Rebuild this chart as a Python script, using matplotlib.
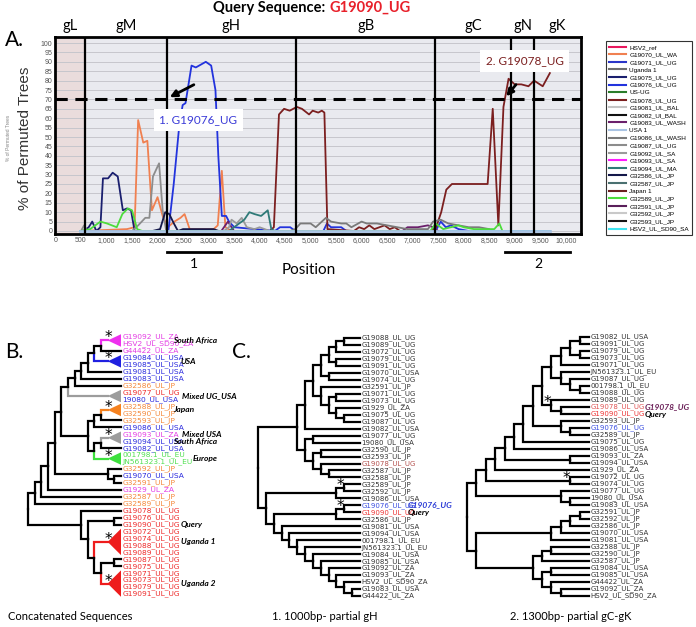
import matplotlib
matplotlib.use('Agg')
import matplotlib.pyplot as plt
import matplotlib.transforms as mtransforms
from matplotlib.lines import Line2D
from matplotlib.patches import Polygon

W, H = 696, 627
NARROW = ['Liberation Sans Narrow', 'DejaVu Sans']
SANS = ['Liberation Sans', 'DejaVu Sans']
CAL = ['Lato', 'DejaVu Sans']

# ---------------- panel A: bootscan data ----------------
GENE_BOUNDS = [585, 2177, 4717, 7440, 8930, 9380]
GENE_NAMES = ['gL', 'gM', 'gH', 'gB', 'gC', 'gN', 'gK']
X_END = 10300

BASE_POS = [480, 9700]
BASE_VAL = [0, 0]

G19076_POS = [500, 2100, 2212, 2317, 2422, 2492, 2548, 2666, 2750, 2946, 3051, 3135, 3191, 3260,
              3344, 3400, 3505, 4300, 4400, 4600, 4700, 5250, 5320, 5400, 5600, 5700, 7450, 7550,
              7650, 7750, 7900, 8100]
G19076_VAL = [0, 0, 0, 25, 55, 67, 68, 88, 87, 90, 88, 75, 40, 8,
              8, 5, 2, 0, 2, 2, 0, 0, 4, 2, 2, 0, 0, 5,
              2, 3, 1, 0]

G19078_POS = [500, 4200, 4280, 4380, 4480, 4590, 4730, 4830, 4970, 5040, 5150, 5220, 5270, 5330,
              5850, 5950, 6050, 6150, 6250, 6350, 6450, 6550, 6650, 6750, 7350, 7460, 7560, 7660,
              7770, 8470, 8570, 8680, 8780, 8880, 9000, 9130, 9270, 9380, 9550, 9690]
G19078_VAL = [0, 0, 2, 62, 65, 64, 66, 65, 62, 64, 63, 64, 63, 1,
              0, 2, 1, 3, 1, 2, 3, 1, 2, 0, 0, 2, 10, 22,
              25, 25, 65, 3, 66, 81, 78, 78, 77, 80, 77, 84]

G19070_POS = [500, 1400, 1550, 1620, 1720, 1800, 1890, 2000, 2100, 2200, 2330, 2450, 2530, 2630,
              3100, 3180, 3260, 3330, 3450]
G19070_VAL = [0, 1, 2, 59, 47, 48, 11, 18, 8, 2, 5, 7, 9, 1,
              1, 3, 32, 2, 0]

G19075_POS = [550, 650, 720, 800, 880, 930, 1030, 1120, 1220, 1320, 1400, 1480, 1550, 2000]
G19075_VAL = [0, 2, 5, 0, 2, 28, 28, 31, 29, 11, 12, 11, 0, 0]

G32586_POS = [1900, 2050, 2150, 2230, 2320, 2400, 2500, 3100, 3200]
G32586_VAL = [0, 1, 10, 9, 4, 0, 1, 1, 0]

G19087_POS = [500, 560, 620, 1500, 1620, 1760, 1840, 1910, 2030, 2100, 2170, 2400]
G19087_VAL = [0, 3, 0, 0, 3, 7, 7, 29, 36, 11, 0, 0]

G32589_POS = [500, 680, 880, 1010, 1200, 1310, 1420, 1500, 1600, 1700, 7350, 7450, 7600, 7900,
              8000, 8200, 8600, 8700, 8760]
G32589_VAL = [0, 1, 5, 4, 2, 9, 12, 11, 1, 0, 0, 4, 1, 3,
              2, 1, 1, 4, 0]

G19094_POS = [3400, 3550, 3700, 3800, 3900, 4030, 4160, 4230, 4300]
G19094_VAL = [0, 3, 6, 10, 9, 8, 11, 1, 0]

G19086_POS = [4600, 4700, 4800, 5000, 5100, 5300, 5400, 5600, 5700, 5800, 6000, 6100, 6300, 6500,
              6700, 6900, 7300, 7400, 7550, 7700, 7900, 8100, 8300, 8500]
G19086_VAL = [0, 1, 4, 4, 2, 7, 5, 4, 4, 2, 5, 4, 4, 3,
              2, 1, 1, 5, 6, 4, 3, 2, 2, 1]

G19092_POS = [3300, 3400, 3450, 3550, 3650, 3750, 3900, 4000, 4100, 4200]
G19092_VAL = [0, 2, 6, 4, 7, 2, 1, 2, 1, 0]

G19083_POS = [3250, 3380, 3450, 3500, 6800, 6900, 7100, 7300, 7400, 7500]
G19083_VAL = [0, 5, 2, 0, 0, 2, 2, 3, 2, 0]

LEGEND_LABELS = ['HSV2_ref', 'G19070_UL_WA', 'G19071_UL_UG', 'Uganda 1', 'G19075_UL_UG',
                 'G19076_UL_UG', 'US-UG', 'G19078_UL_UG', 'G19081_UL_BAL', 'G19082_Ul_BAL',
                 'G19083_UL_WASH', 'USA 1', 'G19086_UL_WASH', 'G19087_UL_UG', 'G19092_UL_SA',
                 'G19093_UL_SA', 'G19094_UL_MA', 'G32586_UL_JP', 'G32587_UL_JP', 'Japan 1',
                 'G32589_UL_JP', 'G32591_UL_JP', 'G32592_UL_JP', 'G32593_UL_JP', 'HSV2_UL_SD90_SA']
LEGEND_COLORS = ['#e8175d', '#f08050', '#2a35c8', '#6e6e6e', '#1a1f6e',
                 '#2233dd', '#2a7d2a', '#7b1f1f', '#c4c4c4', '#111111',
                 '#6b1f6b', '#a9c3e3', '#7a7a7a', '#8c8c8c', '#9a9a9a',
                 '#ff1cff', '#2f7a78', '#14184a', '#4a7070', '#6a1f1f',
                 '#4ddc3c', '#5a1f5a', '#c9c9c9', '#151515', '#3fe4f0']

SERIES_DATA = {
    'G19070_UL_WA': (G19070_POS, G19070_VAL),
    'G19075_UL_UG': (G19075_POS, G19075_VAL),
    'G19076_UL_UG': (G19076_POS, G19076_VAL),
    'G19078_UL_UG': (G19078_POS, G19078_VAL),
    'G19083_UL_WASH': (G19083_POS, G19083_VAL),
    'G19086_UL_WASH': (G19086_POS, G19086_VAL),
    'G19087_UL_UG': (G19087_POS, G19087_VAL),
    'G19092_UL_SA': (G19092_POS, G19092_VAL),
    'G19094_UL_MA': (G19094_POS, G19094_VAL),
    'G32586_UL_JP': (G32586_POS, G32586_VAL),
    'G32589_UL_JP': (G32589_POS, G32589_VAL),
}

# ---------------- panels B/C: trees ----------------
TREE_B = ("(((((((((((((G19092_UL_ZA,HSV2_UL_SD90_ZA),G44422_UL_ZA),(G19084_UL_USA,G19085_UL_USA)),"
          "G19081_UL_USA),G19083_UL_USA),G32586_UL_JP),(G19077_UL_UG,19080_UL_USA)),"
          "((((G32588_UL_JP,G32590_UL_JP),G32593_UL_JP),G19086_UL_USA),"
          "(((G19093_UL_ZA,G19094_UL_USA),G19082_UL_USA),(001798.1_UL_EU,JN561323.1_UL_EU)))),"
          "(G32592_UL_JP,(G19070_UL_USA,G32591_UL_JP))),G1929_UL_ZA),G32587_UL_JP),G32589_UL_JP),"
          "(G19078_UL_UG,((G19076_UL_UG,G19090_UL_UG),((G19072_UL_UG,G19074_UL_UG,G19088_UL_UG,G19089_UL_UG),"
          "((G19087_UL_UG,G19075_UL_UG),(G19071_UL_UG,G19073_UL_UG,G19079_UL_UG,G19091_UL_UG))))))")

C1_TOP = ("((((((G19088_UL_UG,G19089_UL_UG),G19072_UL_UG),(G19079_UL_UG,G19091_UL_UG)),"
          "(G19070_UL_USA,G19074_UL_UG)),(G32591_UL_JP,((G19071_UL_UG,G19073_UL_UG),"
          "(G1929_UL_ZA,(G19075_UL_UG,G19087_UL_UG))))),G19082_UL_USA)")
C1_MID = ("((G19077_UL_UG,19080_UL_USA),((G32590_UL_JP,G32593_UL_JP),"
          "(G19078_UL_UG,(G32587_UL_JP,G32588_UL_JP))))")
C1_LADDER = ("(G19081_UL_USA,(G19094_UL_USA,(001798.1_UL_EU,(JN561323.1_UL_EU,(G19084_UL_USA,"
             "(G19085_UL_USA,(G19092_UL_ZA,(G19093_UL_ZA,(HSV2_UL_SD90_ZA,(G19083_UL_USA,G44422_UL_ZA))))))))))")
TREE_C1 = ("((" + C1_TOP + "," + C1_MID + "):5,(((G32589_UL_JP,G32592_UL_JP),G19086_UL_USA):9,"
           "(((G19076_UL_UG,G19090_UL_UG),G32586_UL_JP):8," + C1_LADDER + ")))")

C2_A = ("((((G19082_UL_USA,G19091_UL_UG),(G19079_UL_UG,G19073_UL_UG)),G19071_UL_UG),"
        "(JN561323.1_UL_EU,(G19087_UL_UG,(001798.1_UL_EU,G19088_UL_UG))))")
C2_UP = ("((((((((" + C2_A + ",(G19089_UL_UG,(G19078_UL_UG,G19090_UL_UG))),"
         "(G32593_UL_JP,(G19076_UL_UG,G32589_UL_JP)):3),G19075_UL_UG),G19086_UL_USA),"
         "(G19093_UL_ZA,G19094_UL_USA):7),G1929_UL_ZA),(G19072_UL_UG,G19074_UL_UG):9),"
         "(G19077_UL_UG,(19080_UL_USA,G19083_UL_USA)):9)")
C2_LOW = ("(((((G32591_UL_JP,G32592_UL_JP),G32586_UL_JP),G19070_UL_USA),G19081_UL_USA):8,"
          "(((G32588_UL_JP,G32590_UL_JP),G32587_UL_JP),((G19084_UL_USA,G19085_UL_USA),"
          "(G44422_UL_ZA,(G19092_UL_ZA,HSV2_UL_SD90_ZA)))):6)")
TREE_C2 = "(" + C2_UP + "," + C2_LOW + ")"

REGION_COLORS = {'ZA': '#e43ce4', 'USA': '#2a2ade', 'JP': '#f58a3c', 'UG': '#ee2b2b', 'EU': '#52e052'}
COLLAPSED_B = {
    'G19092_UL_ZA|HSV2_UL_SD90_ZA': '#ee30ee',
    'G19084_UL_USA|G19085_UL_USA': '#2020e0',
    'G19077_UL_UG|19080_UL_USA': '#9c9c9c',
    'G32588_UL_JP|G32590_UL_JP': '#f58220',
    'G19093_UL_ZA|G19094_UL_USA': '#9c9c9c',
    '001798.1_UL_EU|JN561323.1_UL_EU': '#3ee03e',
    'G19072_UL_UG|G19089_UL_UG': '#ee1c1c',
    'G19071_UL_UG|G19091_UL_UG': '#ee1c1c',
}
STARS_B = ['G19092_UL_ZA|HSV2_UL_SD90_ZA', 'G19084_UL_USA|G19085_UL_USA', 'G32588_UL_JP|G32590_UL_JP',
           'G19093_UL_ZA|G19094_UL_USA', '001798.1_UL_EU|JN561323.1_UL_EU', 'G19072_UL_UG|G19089_UL_UG',
           'G19071_UL_UG|G19091_UL_UG']
STARS_C1 = ['G32589_UL_JP|G32592_UL_JP', 'G19076_UL_UG|G19090_UL_UG']
STARS_C2 = ['G19089_UL_UG|G19090_UL_UG', 'G19072_UL_UG|G19074_UL_UG']
HILITE_C1 = {'G19078_UL_UG': '#b5524f', 'G19076_UL_UG': '#3a4ee0', 'G19090_UL_UG': '#ee3333'}
HILITE_C2 = {'G19078_UL_UG': '#e05555', 'G19076_UL_UG': '#3a4ee0', 'G19090_UL_UG': '#ee3333'}

CLADE_LABELS_B = [('South Africa', 'G19092_UL_ZA', 'HSV2_UL_SD90_ZA', 173),
                  ('USA', 'G19084_UL_USA', 'G19085_UL_USA', 181),
                  ('Mixed UG_USA', 'G19077_UL_UG', '19080_UL_USA', 182),
                  ('Japan', 'G32588_UL_JP', 'G32590_UL_JP', 173),
                  ('Mixed USA', 'G19093_UL_ZA', 'G19093_UL_ZA', 182),
                  ('South Africa', 'G19094_UL_USA', 'G19094_UL_USA', 173),
                  ('Europe', '001798.1_UL_EU', 'JN561323.1_UL_EU', 193),
                  ('Query', 'G19090_UL_UG', 'G19090_UL_UG', 181),
                  ('Uganda 1', 'G19074_UL_UG', 'G19088_UL_UG', 181),
                  ('Uganda 2', 'G19073_UL_UG', 'G19079_UL_UG', 181)]


def parse_newick(s):
    pos = 0

    def node():
        nonlocal pos
        if s[pos] == '(':
            pos += 1
            kids = [node()]
            while s[pos] == ',':
                pos += 1
                kids.append(node())
            pos += 1
            content = kids
        else:
            start = pos
            while s[pos] not in ',():':
                pos += 1
            content = s[start:pos]
        length = 1.0
        if pos < len(s) and s[pos] == ':':
            pos += 1
            start = pos
            while pos < len(s) and s[pos] not in ',()':
                pos += 1
            length = float(s[start:pos])
        return (content, length)
    return node()


def leaf_names(n):
    if isinstance(n[0], str):
        return [n[0]]
    return [l for k in n[0] for l in leaf_names(k)]


def draw_tree(ax, newick, root_px, leaf_px, y_top, y_bot, leaf_color, mode='depth',
              collapsed=None, stars=(), fontsize=5.0, star_dx=-0.5, star_ha='right'):
    collapsed = collapsed or {}
    root = parse_newick(newick)
    order = leaf_names(root)
    row = {n: y_top + i * (y_bot - y_top) / (len(order) - 1) for i, n in enumerate(order)}
    gap = (y_bot - y_top) / (len(order) - 1)

    def key(n):
        l = leaf_names(n)
        return l[0] + '|' + l[-1]

    def height(n):
        if isinstance(n[0], str):
            return 0
        if key(n) in collapsed:
            return 2
        return 1 + max(height(k) for k in n[0])

    def max_depth(n, d):
        if isinstance(n[0], str):
            return d
        return max(max_depth(k, d + k[1]) for k in n[0])

    if mode == 'height':
        step = (leaf_px - root_px) / height(root)
    else:
        step = (leaf_px - root_px) / max_depth(root, 0)

    def label(name):
        ax.text(leaf_px + 1.2, row[name], name, fontsize=fontsize, color=leaf_color(name),
                va='center', ha='left', family=NARROW)

    def draw(n, depth):
        content = n[0]
        if isinstance(content, str):
            label(content)
            return leaf_px, row[content]
        x = leaf_px - height(n) * step if mode == 'height' else root_px + depth * step
        k = key(n)
        if k in collapsed:
            names = leaf_names(n)
            y0, y1 = row[names[0]], row[names[-1]]
            y = (y0 + y1) / 2
            ax.add_patch(Polygon([(x, y), (leaf_px, y0 - gap * 0.4), (leaf_px, y1 + gap * 0.4)],
                                 closed=True, facecolor=collapsed[k], edgecolor='none'))
            for nm in names:
                label(nm)
        else:
            pts = [draw(c, depth + c[1]) for c in content]
            y = (pts[0][1] + pts[-1][1]) / 2
            for c, (cx, cy) in zip(content, pts):
                col = 'black' if isinstance(c[0], str) else collapsed.get(key(c), 'black')
                ax.plot([x, x, cx], [y, cy, cy], color=col, lw=1.6,
                        solid_capstyle='projecting', solid_joinstyle='miter')
        if k in stars:
            ax.text(x + star_dx, y - 2.5, '*', fontsize=11, ha=star_ha, va='center', color='black')
        return x, y

    draw(root, 0)
    return row


def region_color(name):
    return REGION_COLORS[name.split('_')[-1]]


def fig_box(left, top, right, bottom):
    return [left / W, 1 - bottom / H, (right - left) / W, (bottom - top) / H]


fig = plt.figure(figsize=(W / 100, H / 100), dpi=100)

# ---- panel A ----
ax = fig.add_axes(fig_box(55, 37, 581, 234))
ax.set_xlim(-10, X_END)
ax.set_ylim(-1.6, 103.2)
ax.set_facecolor('#e9eaef')
ax.axvspan(-10, GENE_BOUNDS[0], color='#eadcdc', zorder=0)
ax.set_yticks(range(0, 101, 5))
ax.set_yticklabels([str(v) for v in range(0, 101, 5)], fontsize=5, color='#555555', family=SANS)
ax.set_xticks(range(0, 10001, 500))
ax.set_xticklabels([f'{v:,}' for v in range(0, 10001, 500)], fontsize=5, color='#555555', family=SANS)
ax.tick_params(length=0, pad=2)
ax.grid(axis='y', color='#c6c6cc', lw=0.7)
ax.set_axisbelow(True)
for s in ax.spines.values():
    s.set_linewidth(2)

for lab, col in zip(LEGEND_LABELS, LEGEND_COLORS):
    pos, val = SERIES_DATA.get(lab, (BASE_POS, BASE_VAL))
    z = 4 if lab == 'USA 1' else (3 if lab in SERIES_DATA else 2)
    ax.plot(pos, val, color=col, lw=2.0 if lab == 'USA 1' else 1.3, zorder=z)

for b in GENE_BOUNDS:
    ax.axvline(b, color='black', lw=1.6, zorder=5)
ax.axhline(70, color='black', lw=2.2, ls=(0, (4, 2.5)), zorder=5)

trans = mtransforms.blended_transform_factory(ax.transData, ax.transAxes)
edges = [0] + GENE_BOUNDS + [X_END]
for name, a, b in zip(GENE_NAMES, edges[:-1], edges[1:]):
    ax.text((a + b) / 2, 1.055, name, transform=trans, ha='center', va='center',
            fontsize=10.5, family=CAL)

ax.annotate('', xy=(2190, 70.5), xytext=(2760, 78.5),
            arrowprops=dict(arrowstyle='-|>', color='black', lw=2, mutation_scale=10), zorder=7)
ax.text(2800, 59, '1. G19076_UG', color='#3b3bd8', fontsize=8.5, family=CAL, ha='center',
        va='center', zorder=8, bbox=dict(facecolor='white', edgecolor='none', pad=4))
ax.annotate('', xy=(8800, 70.5), xytext=(9060, 79),
            arrowprops=dict(arrowstyle='-|>', color='black', lw=2, mutation_scale=10), zorder=7)
ax.text(9200, 90.5, '2. G19078_UG', color='#7b1f1f', fontsize=8.5, family=CAL, ha='center',
        va='center', zorder=8, clip_on=False, bbox=dict(facecolor='white', edgecolor='none', pad=4))

# sub-region bars under the x axis
ax.plot([2180, 3250], [-11, -11], color='black', lw=2, clip_on=False)
ax.plot([8810, 10080], [-11, -11], color='black', lw=2, clip_on=False)
ax.text(2720, -17.5, '1', ha='center', va='center', fontsize=10, family=CAL)
ax.text(9460, -17.5, '2', ha='center', va='center', fontsize=10, family=CAL)
ax.text(4960, -21, 'Position', ha='center', va='center', fontsize=11, family=CAL)

handles = [Line2D([], [], color=c, lw=1.5) for c in LEGEND_COLORS]
leg = fig.legend(handles, LEGEND_LABELS, loc='upper left', bbox_to_anchor=(603 / W, 1 - 38 / H),
                 frameon=True, fancybox=False, edgecolor='black', handlelength=2.6,
                 labelspacing=0.33, borderpad=0.5, handletextpad=0.5, prop={'family': SANS, 'size': 4.6})
leg.get_frame().set_linewidth(0.8)

# ---- overlay in pixel coordinates for texts and trees ----
ov = fig.add_axes([0, 0, 1, 1])
ov.set_xlim(0, W)
ov.set_ylim(H, 0)
ov.axis('off')

ov.text(329, 8, 'Query Sequence: ', ha='right', va='center', fontsize=10.5, weight='bold', family=CAL)
ov.text(329, 8, 'G19090_UG', ha='left', va='center', fontsize=10.5, weight='bold', color='#e8202a',
        family=CAL)
ov.text(5, 40, 'A.', fontsize=15, va='center', family=CAL)
ov.text(5, 352, 'B.', fontsize=15, va='center', family=CAL)
ov.text(232, 352, 'C.', fontsize=15, va='center', family=CAL)
ov.text(25, 138, '% of Permuted Trees', rotation=90, ha='center', va='center', fontsize=11,
        color='#333333', family=SANS)
ov.text(9, 138, '% of Permuted Trees', rotation=90, ha='center', va='center', fontsize=3.5,
        color='#888888', family=SANS)

rows_b = draw_tree(ov, TREE_B, 28, 121, 337, 594, region_color, mode='height',
                   collapsed=COLLAPSED_B, stars=STARS_B, fontsize=5.4, star_dx=1, star_ha='center')
for text, a, b, x in CLADE_LABELS_B:
    ov.text(x, (rows_b[a] + rows_b[b]) / 2, text, fontsize=6.0, weight='bold', style='italic',
            va='center', ha='left', family=CAL)

rows_c1 = draw_tree(ov, TREE_C1, 258, 360, 338, 596, lambda n: HILITE_C1.get(n, '#333333'),
                    stars=STARS_C1, fontsize=5.0)
ov.text(408, rows_c1['G19076_UL_UG'] - 0.5, 'G19076_UG', color='#2b3bd6', fontsize=6.0, weight='bold',
        style='italic', va='center', family=CAL)
ov.text(408, rows_c1['G19090_UL_UG'] + 0.5, 'Query', fontsize=6.0, weight='bold', style='italic',
        va='center', family=CAL)

rows_c2 = draw_tree(ov, TREE_C2, 467, 589, 337, 596, lambda n: HILITE_C2.get(n, '#333333'),
                    stars=STARS_C2, fontsize=5.0)
ov.text(645, rows_c2['G19078_UL_UG'] - 0.5, 'G19078_UG', color='#6b2058', fontsize=6.0, weight='bold',
        style='italic', va='center', family=CAL)
ov.text(645, rows_c2['G19090_UL_UG'] + 0.5, 'Query', fontsize=6.0, weight='bold', style='italic',
        va='center', family=CAL)

ov.text(8, 617, 'Concatenated Sequences', ha='left', va='center', fontsize=8, family=CAL)
ov.text(325, 617, '1. 1000bp- partial gH', ha='center', va='center', fontsize=8, family=CAL)
ov.text(571, 617, '2. 1300bp- partial gC-gK', ha='center', va='center', fontsize=8, family=CAL)

fig.savefig('out.png', dpi=100)
